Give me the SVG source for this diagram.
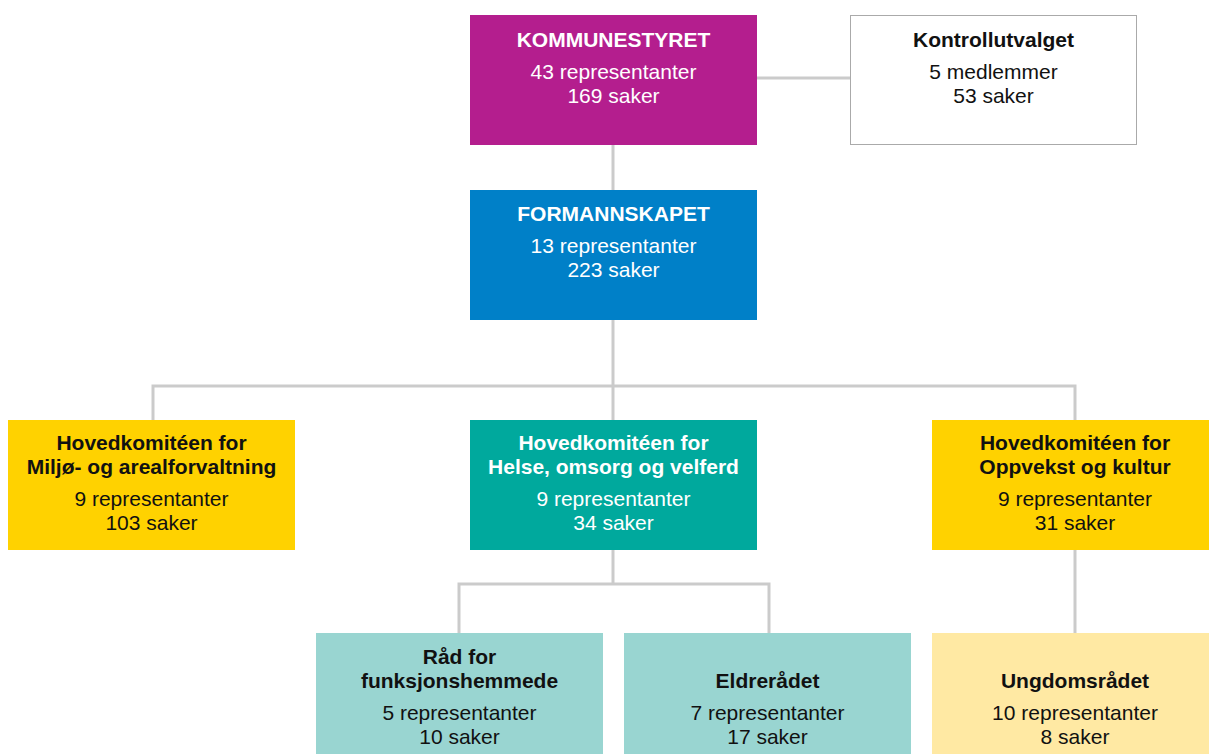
<svg xmlns="http://www.w3.org/2000/svg" width="1209" height="754" viewBox="0 0 1209 754">
<style>
text{font-family:"Liberation Sans",Arial,sans-serif;font-size:21px;text-anchor:middle}
.t{font-weight:bold}
.w{fill:#fff}
.k{fill:#111}
.c{fill:none;stroke:#cbcbcb;stroke-width:3}
</style>
<rect width="1209" height="754" fill="#fff"/>
<g id="connectors">
<path class="c" d="M757 78H850"/>
<path class="c" d="M613 145V190"/>
<path class="c" d="M613 320V420"/>
<path class="c" d="M153 420V386H1075V420"/>
<path class="c" d="M613 550V584"/>
<path class="c" d="M459 633V584H769V633"/>
<path class="c" d="M1075 550V633"/>
</g>
<g id="kommunestyret">
<rect x="470" y="15" width="287" height="130" fill="#b41e8e"/>
<text x="613.5" y="47" class="t w">KOMMUNESTYRET</text>
<text x="613.5" y="79" class="w">43 representanter</text>
<text x="613.5" y="103" class="w">169 saker</text>
</g>
<g id="kontrollutvalget">
<rect x="850.5" y="15.5" width="286" height="129" fill="#fff" stroke="#aaa" stroke-width="1"/>
<text x="993.5" y="47" class="t k">Kontrollutvalget</text>
<text x="993.5" y="79" class="k">5 medlemmer</text>
<text x="993.5" y="103" class="k">53 saker</text>
</g>
<g id="formannskapet">
<rect x="470" y="190" width="287" height="130" fill="#0080c8"/>
<text x="613.5" y="221" class="t w">FORMANNSKAPET</text>
<text x="613.5" y="253" class="w">13 representanter</text>
<text x="613.5" y="277" class="w">223 saker</text>
</g>
<g id="miljo">
<rect x="8" y="420" width="287" height="130" fill="#ffd200"/>
<text x="151.5" y="450" class="t k">Hovedkomitéen for</text>
<text x="151.5" y="474" class="t k">Miljø- og arealforvaltning</text>
<text x="151.5" y="506" class="k">9 representanter</text>
<text x="151.5" y="530" class="k">103 saker</text>
</g>
<g id="helse">
<rect x="470" y="420" width="287" height="130" fill="#00a99d"/>
<text x="613.5" y="450" class="t w">Hovedkomitéen for</text>
<text x="613.5" y="474" class="t w">Helse, omsorg og velferd</text>
<text x="613.5" y="506" class="w">9 representanter</text>
<text x="613.5" y="530" class="w">34 saker</text>
</g>
<g id="oppvekst">
<rect x="932" y="420" width="287" height="130" fill="#ffd200"/>
<text x="1075" y="450" class="t k">Hovedkomitéen for</text>
<text x="1075" y="474" class="t k">Oppvekst og kultur</text>
<text x="1075" y="506" class="k">9 representanter</text>
<text x="1075" y="530" class="k">31 saker</text>
</g>
<g id="funksjonshemmede">
<rect x="316" y="633" width="287" height="130" fill="#99d5d1"/>
<text x="459.5" y="664" class="t k">Råd for</text>
<text x="459.5" y="688" class="t k">funksjonshemmede</text>
<text x="459.5" y="720" class="k">5 representanter</text>
<text x="459.5" y="744" class="k">10 saker</text>
</g>
<g id="eldreradet">
<rect x="624" y="633" width="287" height="130" fill="#99d5d1"/>
<text x="767.5" y="688" class="t k">Eldrerådet</text>
<text x="767.5" y="720" class="k">7 representanter</text>
<text x="767.5" y="744" class="k">17 saker</text>
</g>
<g id="ungdomsradet">
<rect x="932" y="633" width="287" height="130" fill="#ffe9a3"/>
<text x="1075" y="688" class="t k">Ungdomsrådet</text>
<text x="1075" y="720" class="k">10 representanter</text>
<text x="1075" y="744" class="k">8 saker</text>
</g>
</svg>
